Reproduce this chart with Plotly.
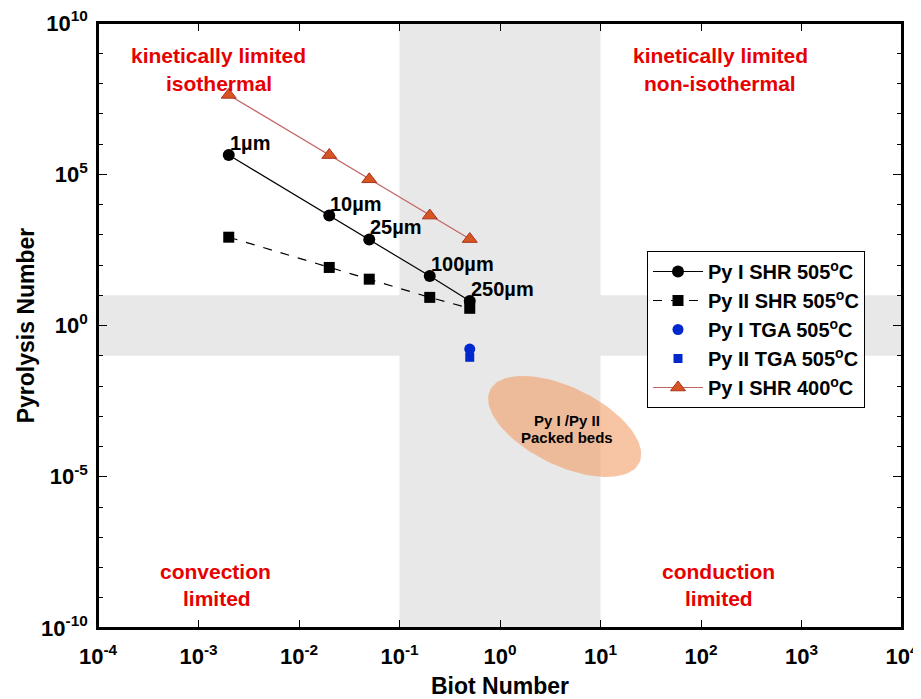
import numpy as np
import plotly.graph_objects as go

# ---------------- data ----------------
biot = [0.002, 0.02, 0.05, 0.2, 0.5]
py1_shr505 = [4.3e5, 4.3e3, 700, 43, 6.5]
py2_shr505 = [830, 83, 34, 8.5, 3.7]
py1_shr400 = [4.2e7, 4.3e5, 6.8e4, 4.3e3, 720]
tga_biot = [0.5]
py1_tga505 = [0.166]
py2_tga505 = [0.089]
size_labels = ["1µm", "10µm", "25µm", "100µm", "250µm"]

x_tickvals = [1e-4, 1e-3, 1e-2, 1e-1, 1e0, 1e1, 1e2, 1e3, 1e4]
x_ticktext = ["10<sup>-4</sup>", "10<sup>-3</sup>", "10<sup>-2</sup>", "10<sup>-1</sup>",
              "10<sup>0</sup>", "10<sup>1</sup>", "10<sup>2</sup>", "10<sup>3</sup>", "10<sup>4</sup>"]
y_tickvals = [1e-10, 1e-5, 1e0, 1e5, 1e10]
y_ticktext = ["10<sup>-10</sup>", "10<sup>-5</sup>", "10<sup>0</sup>", "10<sup>5</sup>", "10<sup>10</sup>"]
y_minor = [10.0 ** k for k in range(-10, 11)]

# regime bands (data limits)
band_lo, band_hi = 0.1, 10

# packed-bed ellipse (centre in data units, semi-axes in px, tilt deg)
ell_center = (4.4, 4.6e-4)
ell_a, ell_b, ell_theta = 83, 39, 26

FONT = "Arial, Liberation Sans, sans-serif"
RED = "rgb(230,0,0)"

# layout geometry (page body has an 8px margin)
OFF = 8
W, H = 921, 699
ML, MR, MT, MB = 98 - OFF, 19 + OFF, 23 - OFF, 71 + OFF
PXX = (W - ML - MR) / 8.0   # px per decade x
PXY = (H - MT - MB) / 20.0  # px per decade y


def px2lx(px):  # screen px -> log10 x
    return -4 + (px - OFF - ML) / PXX


def px2ly(py):  # screen px -> log10 y
    return 10 - (py - OFF - MT) / PXY


fig = go.Figure()

# ellipse as filled scatter
t = np.linspace(0, 2 * np.pi, 120)
th = np.deg2rad(ell_theta)
dx = ell_a * np.cos(t) * np.cos(th) - ell_b * np.sin(t) * np.sin(th)
dy = ell_a * np.cos(t) * np.sin(th) + ell_b * np.sin(t) * np.cos(th)
ex = 10 ** (np.log10(ell_center[0]) + dx / PXX)
ey = 10 ** (np.log10(ell_center[1]) - dy / PXY)
fig.add_trace(go.Scatter(x=ex, y=ey, mode="lines", fill="toself",
                         fillcolor="rgba(240,150,90,0.55)", line=dict(width=0),
                         showlegend=False, hoverinfo="skip"))

fig.add_trace(go.Scatter(x=biot, y=py1_shr505, mode="lines+markers", name="Py I SHR 505<sup>o</sup>C",
                         line=dict(color="black", width=1.2),
                         marker=dict(symbol="circle", size=12, color="black"),
                         legendgroup="a"))
fig.add_trace(go.Scatter(x=biot, y=py2_shr505, mode="lines+markers", name="Py II SHR 505<sup>o</sup>C",
                         line=dict(color="black", width=1.2, dash="dash"),
                         marker=dict(symbol="square", size=11, color="black"),
                         legendgroup="b"))
fig.add_trace(go.Scatter(x=tga_biot, y=py1_tga505, mode="markers", name="Py I TGA 505<sup>o</sup>C",
                         marker=dict(symbol="circle", size=11, color="rgb(0,40,205)"),
                         legendgroup="c"))
fig.add_trace(go.Scatter(x=tga_biot, y=py2_tga505, mode="markers", name="Py II TGA 505<sup>o</sup>C",
                         marker=dict(symbol="square", size=9, color="rgb(0,40,205)"),
                         legendgroup="d"))
fig.add_trace(go.Scatter(x=biot, y=py1_shr400, mode="lines+markers", name="Py I SHR 400<sup>o</sup>C",
                         line=dict(color="rgb(195,100,100)", width=1.2),
                         marker=dict(symbol="triangle-up", size=13, color="rgb(215,85,35)",
                                     line=dict(color="rgb(170,50,30)", width=1)),
                         legendgroup="e"))

# bands
fig.add_shape(type="rect", xref="x", yref="paper", x0=band_lo, x1=band_hi, y0=0, y1=1,
              fillcolor="rgb(232,232,232)", line=dict(width=0), layer="below")
fig.add_shape(type="rect", xref="paper", yref="y", x0=0, x1=1, y0=band_lo, y1=band_hi,
              fillcolor="rgb(232,232,232)", line=dict(width=0), layer="below")
# axes frame
fig.add_shape(type="rect", xref="paper", yref="paper", x0=0, x1=1, y0=0, y1=1,
              line=dict(color="black", width=2), fillcolor="rgba(0,0,0,0)", layer="above")

# size labels
for xv, yv, lab in zip(biot, py1_shr505, size_labels):
    fig.add_annotation(x=np.log10(xv), y=np.log10(yv), text="<b>" + lab + "</b>", showarrow=False,
                       xanchor="left", yanchor="middle", xshift=-1, yshift=12,
                       font=dict(family=FONT, size=20, color="black"))

# regime labels
regime = [("kinetically limited", 218, 55), ("isothermal", 219, 83),
          ("kinetically limited", 720, 55), ("non-isothermal", 720, 83),
          ("convection", 215, 571), ("limited", 217, 598),
          ("conduction", 718, 571), ("limited", 719, 598)]
for txt, px, py in regime:
    fig.add_annotation(x=px2lx(px), y=px2ly(py), text="<b>" + txt + "</b>", showarrow=False,
                       font=dict(family=FONT, size=21, color=RED))

# ellipse label
fig.add_annotation(x=px2lx(567), y=px2ly(420), text="<b>Py I /Py II</b>", showarrow=False,
                   font=dict(family=FONT, size=15, color="black"))
fig.add_annotation(x=px2lx(567), y=px2ly(437), text="<b>Packed beds</b>", showarrow=False,
                   font=dict(family=FONT, size=15, color="black"))

axis_common = dict(showline=True, linecolor="black", linewidth=1.5, mirror="allticks",
                   ticks="inside", tickcolor="black", showgrid=False, zeroline=False,
                   automargin=False, ticklabeloverflow="allow",
                   tickfont=dict(family=FONT, size=22, color="black", weight="bold"))

fig.update_xaxes(type="log", range=[-4, 4], tickmode="array", tickvals=x_tickvals,
                 ticktext=x_ticktext, ticklen=8, ticklabelstandoff=8,
                 title=dict(text="Biot Number", font=dict(family=FONT, size=23, color="black", weight="bold"),
                            standoff=10),
                 **axis_common)
fig.update_yaxes(type="log", range=[-10, 10], tickmode="array", tickvals=y_tickvals,
                 ticktext=y_ticktext, ticklen=9, ticklabelstandoff=4,
                 minor=dict(tickmode="array", tickvals=y_minor, ticklen=5, ticks="inside", tickcolor="black"),
                 title=dict(text="Pyrolysis Number", font=dict(family=FONT, size=23, color="black", weight="bold"),
                            standoff=0),
                 **axis_common)

fig.update_layout(
    width=W, height=H,
    margin=dict(l=ML, r=MR, t=MT, b=MB, autoexpand=False),
    plot_bgcolor="white", paper_bgcolor="white",
    showlegend=True,
    legend=dict(x=(647 - OFF - ML) / (W - ML - MR), y=(H - MB - (251 - OFF)) / (H - MT - MB),
                xanchor="left", yanchor="top", bgcolor="white", bordercolor="black", borderwidth=1,
                font=dict(family=FONT, size=20, color="black", weight="bold"),
                traceorder="grouped", tracegroupgap=0, itemwidth=50),
)

fig.write_html("out.html")
